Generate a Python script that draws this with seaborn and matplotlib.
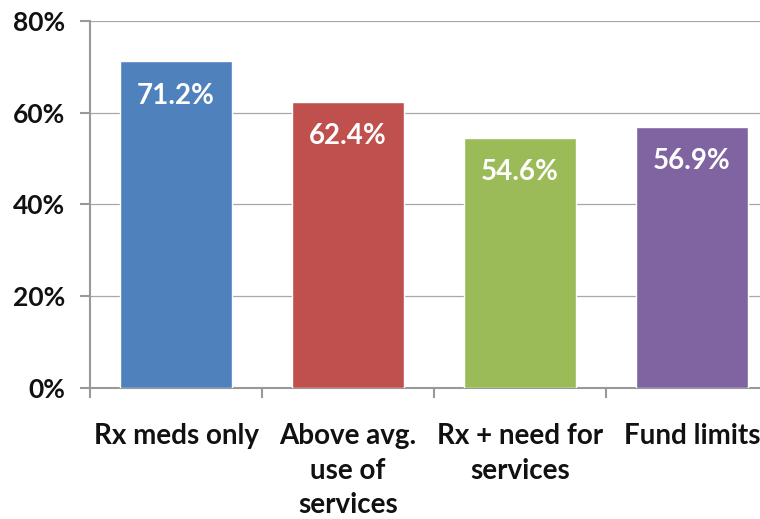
import matplotlib
matplotlib.use("Agg")
import matplotlib.pyplot as plt
import seaborn as sns
import pandas as pd
from matplotlib.ticker import FixedLocator, NullFormatter

categories = ["Rx meds only", "Above avg.\nuse of\nservices", "Rx + need for\nservices", "Fund limits"]
values = [71.2, 62.4, 54.6, 56.9]
colors = ["#4F81BD", "#C0504D", "#9BBB59", "#8064A2"]
yticks = [0, 20, 40, 60, 80]
ytick_labels = ["0%", "20%", "40%", "60%", "80%"]

sns.set_theme(style="white")
plt.rcParams['font.family'] = ['Lato', 'DejaVu Sans']

df = pd.DataFrame({"cat": categories, "val": values})

fig = plt.figure(figsize=(7.6, 5.19), dpi=100)
ax = fig.add_axes([90/760, (519-388)/519, 688/760, 367/519])

sns.barplot(data=df, x="cat", y="val", hue="cat", palette=colors, width=0.65,
            dodge=False, legend=False, ax=ax, saturation=1, zorder=3)

ax.set_ylim(0, 80)
ax.set_xlim(-0.5, len(categories) - 0.5)
ax.set_yticks(yticks)
ax.set_yticklabels(ytick_labels, fontsize=19, fontweight="bold", color="#111111")
ax.tick_params(axis="y", length=7, width=1.5, color="#999999", direction="out", pad=11, left=True)

# horizontal gridlines
ax.yaxis.grid(True, color="#a8a8a8", linewidth=0.9, zorder=0)
ax.xaxis.grid(False)
ax.set_axisbelow(True)

# category labels at centers, ticks at boundaries
ax.set_xticks(range(len(categories)))
ax.set_xticklabels(categories, fontsize=20, fontweight="bold", color="#111111", linespacing=1.42)
ax.tick_params(axis="x", which="major", length=0, pad=25)
ax.xaxis.set_minor_locator(FixedLocator([i - 0.5 for i in range(len(categories) + 1)]))
ax.xaxis.set_minor_formatter(NullFormatter())
ax.tick_params(axis="x", which="minor", length=7, width=1.5, color="#999999", direction="out", bottom=True)

for s in ["top", "right"]:
    ax.spines[s].set_visible(False)
for s in ["left", "bottom"]:
    ax.spines[s].set_color("#999999")
    ax.spines[s].set_linewidth(1.5)

ax.set_xlabel("")
ax.set_ylabel("")

for i, v in enumerate(values):
    ax.text(i, v - 7.5, f"{v:.1f}%", ha="center", va="center", color="white",
            fontsize=20, fontweight="bold", zorder=4)

fig.savefig("out.png", dpi=100)
